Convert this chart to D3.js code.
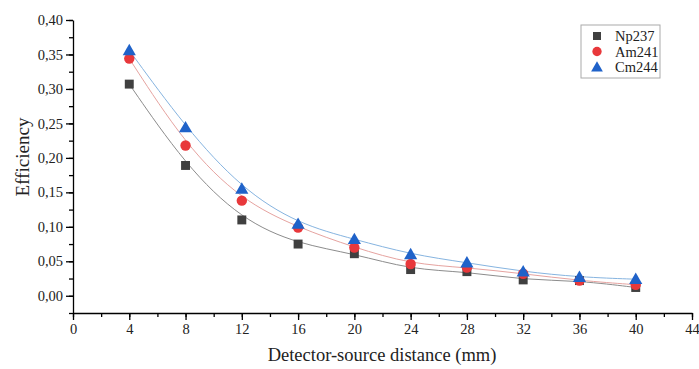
<!DOCTYPE html>
<html>
<head>
<meta charset="utf-8">
<script src="https://cdn.jsdelivr.net/npm/d3@7"></script>
<style>
  body { margin: 0; background: #fff; }
  text { font-family: "Liberation Serif", "Times New Roman", serif; }
</style>
</head>
<body>
<div id="chart"></div>
<script>
// distances (mm)
var distances = [4, 8, 12, 16, 20, 24, 28, 32, 36, 40];
var np237 = [0.307, 0.189, 0.110, 0.075, 0.061, 0.038, 0.035, 0.023, 0.022, 0.012];
var am241 = [0.344, 0.218, 0.138, 0.099, 0.070, 0.046, 0.041, 0.032, 0.022, 0.016];
var cm244 = [0.356, 0.244, 0.155, 0.104, 0.082, 0.060, 0.048, 0.035, 0.027, 0.024];
var xTicks = [0, 4, 8, 12, 16, 20, 24, 28, 32, 36, 40, 44];
var yTicks = [0.00, 0.05, 0.10, 0.15, 0.20, 0.25, 0.30, 0.35, 0.40];

var series = [
  {name: "Np237", values: np237, color: "#404040", line: "#8c8c8c", shape: d3.symbolSquare, size: 80},
  {name: "Am241", values: am241, color: "#e8383b", line: "#e6a3a0", shape: d3.symbolCircle, size: 85},
  {name: "Cm244", values: cm244, color: "#1f62c9", line: "#86b4e0", shape: d3.symbolTriangle, size: 75}
];

var W = 699, H = 369;
var margin = {top: 20, right: 7, bottom: 56, left: 73};
var width = W - margin.left - margin.right,
    height = H - margin.top - margin.bottom;

var locale = d3.formatLocale({decimal: ",", thousands: ".", grouping: [3], currency: ["", ""]});
var fmt = locale.format(".2f");

var svg = d3.select("#chart").append("svg")
    .attr("width", W)
    .attr("height", H)
  .append("g")
    .attr("transform", "translate(" + margin.left + "," + margin.top + ")");

var x = d3.scaleLinear().domain([0, 44]).range([0, width]);
var y = d3.scaleLinear().domain([-0.025, 0.40]).range([height, 0]);

// minor ticks
var xMinor = d3.range(0, 45, 2);
var yMinor = d3.range(-0.025, 0.401, 0.025);

svg.append("g")
    .attr("transform", "translate(0," + height + ")")
    .call(d3.axisBottom(x).tickValues(xMinor).tickSize(4).tickFormat(""))
    .call(function(g) { g.select(".domain").remove(); });
svg.append("g")
    .call(d3.axisLeft(y).tickValues(yMinor).tickSize(4).tickFormat(""))
    .call(function(g) { g.select(".domain").remove(); });

var xAxis = svg.append("g")
    .attr("transform", "translate(0," + height + ")")
    .call(d3.axisBottom(x).tickValues(xTicks).tickSize(7).tickPadding(4).tickSizeOuter(0).tickFormat(d3.format("d")));
var yAxis = svg.append("g")
    .call(d3.axisLeft(y).tickValues(yTicks).tickSize(7).tickPadding(3).tickSizeOuter(0).tickFormat(fmt));

svg.selectAll(".tick line, .domain").attr("stroke", "#000").attr("stroke-width", 1.3);
svg.selectAll(".tick text").attr("font-size", 14.5).attr("fill", "#222")
    .style("font-family", "'Liberation Serif', serif");

// fitted curves
var line = d3.line()
    .x(function(d, i) { return x(distances[i]); })
    .y(function(d) { return y(d); })
    .curve(d3.curveBasis);

series.forEach(function(s) {
  svg.append("path")
      .datum(s.values)
      .attr("fill", "none")
      .attr("stroke", s.line)
      .attr("stroke-width", 1)
      .attr("d", line);
});

series.forEach(function(s) {
  svg.selectAll(null)
      .data(s.values)
      .enter().append("path")
      .attr("transform", function(d, i) {
        var dy = s.shape === d3.symbolTriangle ? 1 : 0;
        return "translate(" + x(distances[i]) + "," + (y(d) + dy) + ")";
      })
      .attr("d", d3.symbol().type(s.shape).size(s.size))
      .attr("fill", s.color);
});

// axis titles
svg.append("text")
    .attr("transform", "translate(" + (-44) + "," + (137) + ") rotate(-90)")
    .attr("text-anchor", "middle")
    .attr("font-size", 19)
    .attr("fill", "#222")
    .text("Efficiency");
svg.append("text")
    .attr("x", 382 - margin.left)
    .attr("y", height + 48)
    .attr("text-anchor", "middle")
    .attr("font-size", 18.5)
    .attr("fill", "#222")
    .text("Detector-source distance (mm)");

// legend
var legend = svg.append("g").attr("transform", "translate(" + (581 - margin.left) + "," + (25 - margin.top) + ")");
legend.append("rect")
    .attr("width", 79).attr("height", 53)
    .attr("fill", "#fff").attr("stroke", "#aaa").attr("stroke-width", 1);
series.forEach(function(s, i) {
  var row = legend.append("g").attr("transform", "translate(0," + (11 + i * 15.5) + ")");
  row.append("path")
      .attr("transform", "translate(16," + (s.shape === d3.symbolTriangle ? 1 : 0) + ")")
      .attr("d", d3.symbol().type(s.shape).size(s.size * 0.8))
      .attr("fill", s.color);
  row.append("text")
      .attr("x", 34).attr("y", 5)
      .attr("font-size", 14.5)
      .attr("fill", "#222")
      .text(s.name);
});
</script>
</body>
</html>
